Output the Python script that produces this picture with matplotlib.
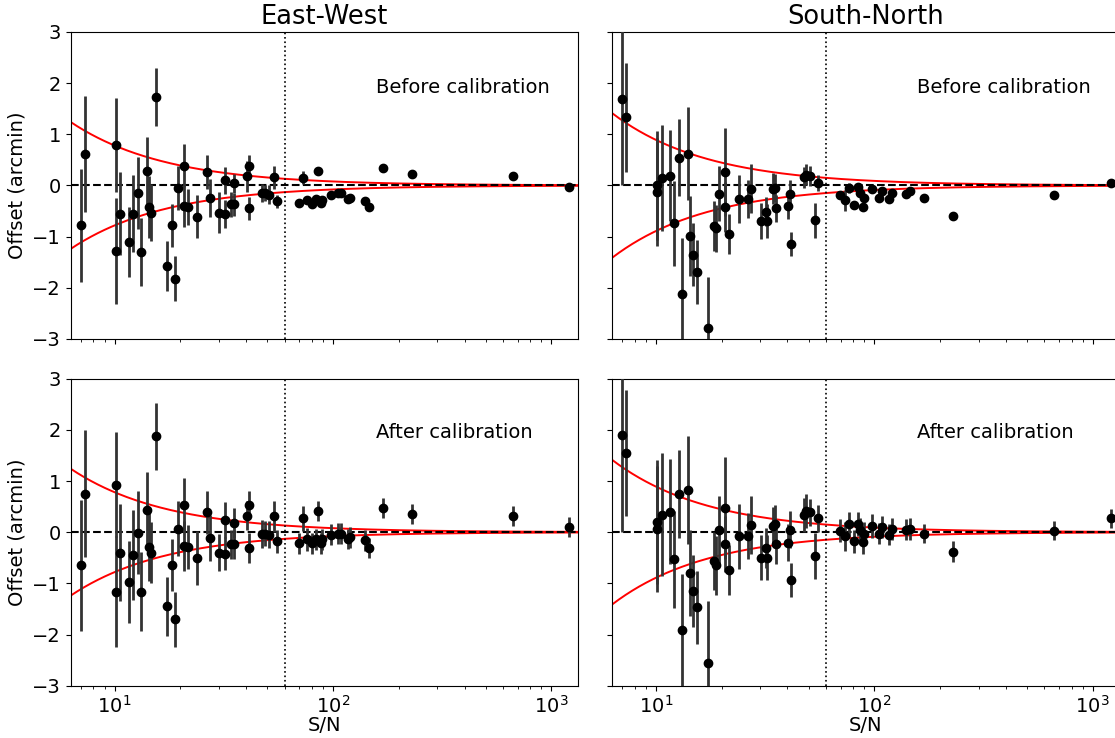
import matplotlib
matplotlib.use('Agg')
import matplotlib.pyplot as plt
import numpy as np

# S/N of each source (same sources in all four panels)
snr = [6.99, 7.30, 10.1, 10.1, 10.6, 11.6, 12.1, 12.8, 13.2, 14.0,
       14.3, 14.7, 15.4, 17.3, 18.4, 18.8, 19.4, 20.7, 20.8, 21.6,
       23.9, 26.5, 27.2, 30.2, 32.0, 32.1, 34.2, 35.1, 35.3, 40.2,
       41.1, 41.3, 47.5, 48.8, 50.8, 53.4, 55.1, 69.8, 73.1, 76.2,
       80.3, 83.8, 85.6, 88.3, 89.2, 97.4, 105.4, 108.6, 116.5, 120.2,
       139.5, 146.3, 168.9, 229.8, 663.6, 1206]

# East-West offsets (arcmin)
ew_before = [-0.78, 0.62, 0.79, -1.28, -0.55, -1.11, -0.55, -0.15, -1.30, 0.29,
             -0.42, -0.53, 1.73, -1.58, -0.78, -1.82, -0.05, 0.39, -0.40, -0.42,
             -0.61, 0.27, -0.24, -0.53, 0.10, -0.56, -0.37, 0.04, -0.37, 0.18,
             0.39, -0.45, -0.15, -0.15, -0.18, 0.16, -0.31, -0.34, 0.15, -0.29,
             -0.37, -0.27, 0.29, -0.35, -0.29, -0.19, -0.15, -0.15, -0.26, -0.24,
             -0.31, -0.42, 0.34, 0.23, 0.18, -0.03]
ew_before_err = [1.11, 1.13, 0.92, 1.03, 0.81, 0.68, 0.76, 0.70, 0.66, 0.65,
                 0.60, 0.55, 0.57, 0.49, 0.42, 0.44, 0.43, 0.42, 0.41, 0.35,
                 0.42, 0.33, 0.37, 0.40, 0.27, 0.28, 0.25, 0.18, 0.22, 0.30,
                 0.20, 0.22, 0.18, 0.15, 0.18, 0.22, 0.13, 0.08, 0.13, 0.05,
                 0.05, 0.05, 0.05, 0.05, 0.05, 0.05, 0.05, 0.05, 0.05, 0.05,
                 0.05, 0.05, 0.04, 0.04, 0.03, 0.03]
ew_after = [-0.65, 0.75, 0.93, -1.16, -0.40, -0.97, -0.44, -0.01, -1.16, 0.43,
            -0.29, -0.40, 1.87, -1.45, -0.64, -1.70, 0.07, 0.54, -0.27, -0.29,
            -0.50, 0.39, -0.11, -0.40, 0.23, -0.42, -0.24, 0.18, -0.24, 0.32,
            0.54, -0.31, -0.03, -0.03, -0.05, 0.31, -0.18, -0.22, 0.27, -0.14,
            -0.22, -0.14, 0.41, -0.22, -0.14, -0.05, -0.03, -0.03, -0.13, -0.10,
            -0.16, -0.31, 0.47, 0.36, 0.32, 0.10]
ew_after_err = [1.28, 1.24, 1.02, 1.09, 0.95, 0.80, 0.88, 0.81, 0.77, 0.75,
                0.66, 0.60, 0.66, 0.58, 0.50, 0.54, 0.54, 0.51, 0.48, 0.43,
                0.53, 0.42, 0.45, 0.36, 0.35, 0.32, 0.29, 0.30, 0.29, 0.28,
                0.27, 0.30, 0.27, 0.25, 0.26, 0.30, 0.23, 0.20, 0.24, 0.22,
                0.20, 0.20, 0.20, 0.20, 0.20, 0.20, 0.20, 0.20, 0.20, 0.20,
                0.20, 0.20, 0.20, 0.20, 0.19, 0.19]

# South-North offsets (arcmin)
sn_before = [1.69, 1.33, 0.00, -0.13, 0.15, 0.19, -0.74, 0.54, -2.12, 0.62,
             -0.99, -1.35, -1.69, -2.79, -0.79, -0.84, -0.16, 0.27, -0.42, -0.95,
             -0.27, -0.26, -0.06, -0.69, -0.51, -0.69, -0.06, -0.05, -0.45, -0.40,
             -0.16, -1.14, 0.16, 0.21, 0.18, -0.68, 0.05, -0.18, -0.29, -0.05,
             -0.39, -0.03, -0.14, -0.42, -0.24, -0.06, -0.24, -0.11, -0.26, -0.14,
             -0.16, -0.11, -0.24, -0.60, -0.18, 0.05]
sn_before_err = [1.69, 1.07, 1.06, 1.06, 1.04, 0.89, 0.83, 0.75, 1.10, 0.91,
                 0.78, 0.62, 0.63, 1.00, 0.49, 0.46, 0.54, 0.86, 0.49, 0.39,
                 0.47, 0.37, 0.47, 0.35, 0.28, 0.33, 0.30, 0.27, 0.26, 0.26,
                 0.26, 0.24, 0.21, 0.20, 0.20, 0.34, 0.16, 0.08, 0.20, 0.10,
                 0.05, 0.05, 0.05, 0.05, 0.05, 0.05, 0.05, 0.05, 0.05, 0.05,
                 0.05, 0.05, 0.04, 0.04, 0.03, 0.03]
sn_after = [1.90, 1.55, 0.20, 0.07, 0.34, 0.40, -0.53, 0.75, -1.92, 0.82,
            -0.79, -1.15, -1.47, -2.55, -0.56, -0.65, 0.04, 0.47, -0.23, -0.74,
            -0.08, -0.08, 0.14, -0.50, -0.31, -0.50, 0.13, 0.16, -0.24, -0.21,
            0.05, -0.94, 0.34, 0.41, 0.39, -0.47, 0.27, 0.03, -0.08, 0.15,
            -0.18, 0.16, 0.05, -0.19, -0.03, 0.12, -0.03, 0.10, -0.05, 0.06,
            0.05, 0.06, -0.03, -0.38, 0.03, 0.27]
sn_after_err = [1.90, 1.23, 1.22, 1.23, 1.20, 1.03, 0.95, 0.86, 1.10, 1.05,
                0.84, 0.71, 0.71, 1.20, 0.57, 0.57, 0.67, 0.99, 0.55, 0.48,
                0.63, 0.45, 0.57, 0.44, 0.39, 0.44, 0.37, 0.37, 0.39, 0.36,
                0.36, 0.33, 0.33, 0.33, 0.26, 0.45, 0.27, 0.23, 0.28, 0.25,
                0.23, 0.23, 0.23, 0.23, 0.23, 0.23, 0.21, 0.21, 0.21, 0.21,
                0.20, 0.21, 0.19, 0.21, 0.18, 0.18]

# envelope k / (S/N) for each direction
k_ew = 7.8
k_sn = 8.9
snr_cut = 60

titles = ['East-West', 'South-North']
row_text = ['Before calibration', 'After calibration']

plt.rcParams['font.size'] = 14

fig = plt.figure(figsize=(11.15, 7.38), dpi=100)

w = 0.4552
h = 0.416
lefts = [0.0634, 0.5489]
bottoms = [0.5407, 0.0709]

xmin = min(snr) * 0.9
xmax = max(snr) * 1.1
xs = np.logspace(np.log10(xmin), np.log10(xmax), 300)

panels = [
    [(ew_before, ew_before_err, k_ew), (sn_before, sn_before_err, k_sn)],
    [(ew_after, ew_after_err, k_ew), (sn_after, sn_after_err, k_sn)],
]

ax0 = None
for r in range(2):
    for c in range(2):
        if ax0 is None:
            ax = fig.add_axes([lefts[c], bottoms[r], w, h])
            ax0 = ax
        else:
            ax = fig.add_axes([lefts[c], bottoms[r], w, h], sharex=ax0, sharey=ax0)
        y, yerr, k = panels[r][c]

        ax.plot(xs, k / xs, color='red', lw=1.4, zorder=1)
        ax.plot(xs, -k / xs, color='red', lw=1.4, zorder=1)
        ax.axhline(0, color='black', ls='--', lw=1.5, zorder=2)
        ax.axvline(snr_cut, color='black', ls=':', lw=1.2, zorder=2)
        ax.errorbar(snr, y, yerr=yerr, fmt='o', color='black', ms=6,
                    ecolor='0.2', elinewidth=2, capsize=0, zorder=3)

        ax.set_xscale('log')
        ax.set_xlim(xmin, xmax)
        ax.set_ylim(-3, 3)
        ax.set_yticks([-3, -2, -1, 0, 1, 2, 3])
        ax.text(0.601, 0.82 if r == 0 else 0.825, row_text[r],
                transform=ax.transAxes, fontsize=14, va='center')

        if r == 0:
            ax.set_title(titles[c], fontsize=18.5)
            ax.tick_params(labelbottom=False)
        else:
            ax.set_xlabel('S/N', labelpad=-1)
        if c == 0:
            ax.set_ylabel('Offset (arcmin)')
        else:
            ax.tick_params(labelleft=False)

plt.savefig('out.png', dpi=100)
